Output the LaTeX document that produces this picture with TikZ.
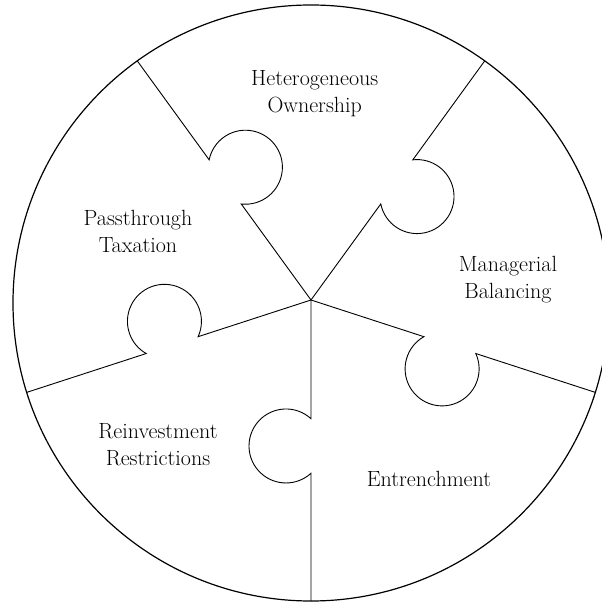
\documentclass[tikz,border=0pt]{standalone}
\newcommand\myknob[1]{\draw (0,0) -- (#1:118.7) arc[start angle={#1+137.5}, end angle={#1+402.5}, radius=37] -- (#1:330) ; }
\newcommand\mylabel{\fontsize{22}{27}\selectfont}

\begin{document}
\begin{tikzpicture}[x=1pt, y=1pt, line width=0.9pt]
    % page frame, circle runs off right and bottom
    \useasboundingbox (-311,-302) rectangle (291,300);
    \clip (-311,-302) rectangle (291,300);

    % outer circle
    \draw [line width=1.2pt] (0,-3) circle (298);

    \begin{scope}
        \clip (0,-3) circle (298);
        % top right spoke, knob into Managerial
        \myknob{54}
        % top left spoke, knob into Heterogeneous
        \myknob{126}
        % left spoke, knob into Passthrough
        \myknob{198}
        % bottom spoke, knob into Reinvestment
        \myknob{270}
        % right spoke, knob into Entrenchment
        \myknob{342}
    \end{scope}

    % labels
    \node[align=center, font=\mylabel] (hetero) at (3.7,206) {Heterogeneous\\Ownership};
    \node[align=center, font=\mylabel] (pass) at (-173,69) {Passthrough\\Taxation};
    \node[align=center, font=\mylabel] (manag) at (197,20.5) {Managerial\\Balancing};
    \node[align=center, font=\mylabel] (reinv) at (-153,-145) {Reinvestment\\Restrictions};
    \node[align=center, font=\mylabel] (entr) at (118,-179) {Entrenchment};
\end{tikzpicture}
\end{document}
